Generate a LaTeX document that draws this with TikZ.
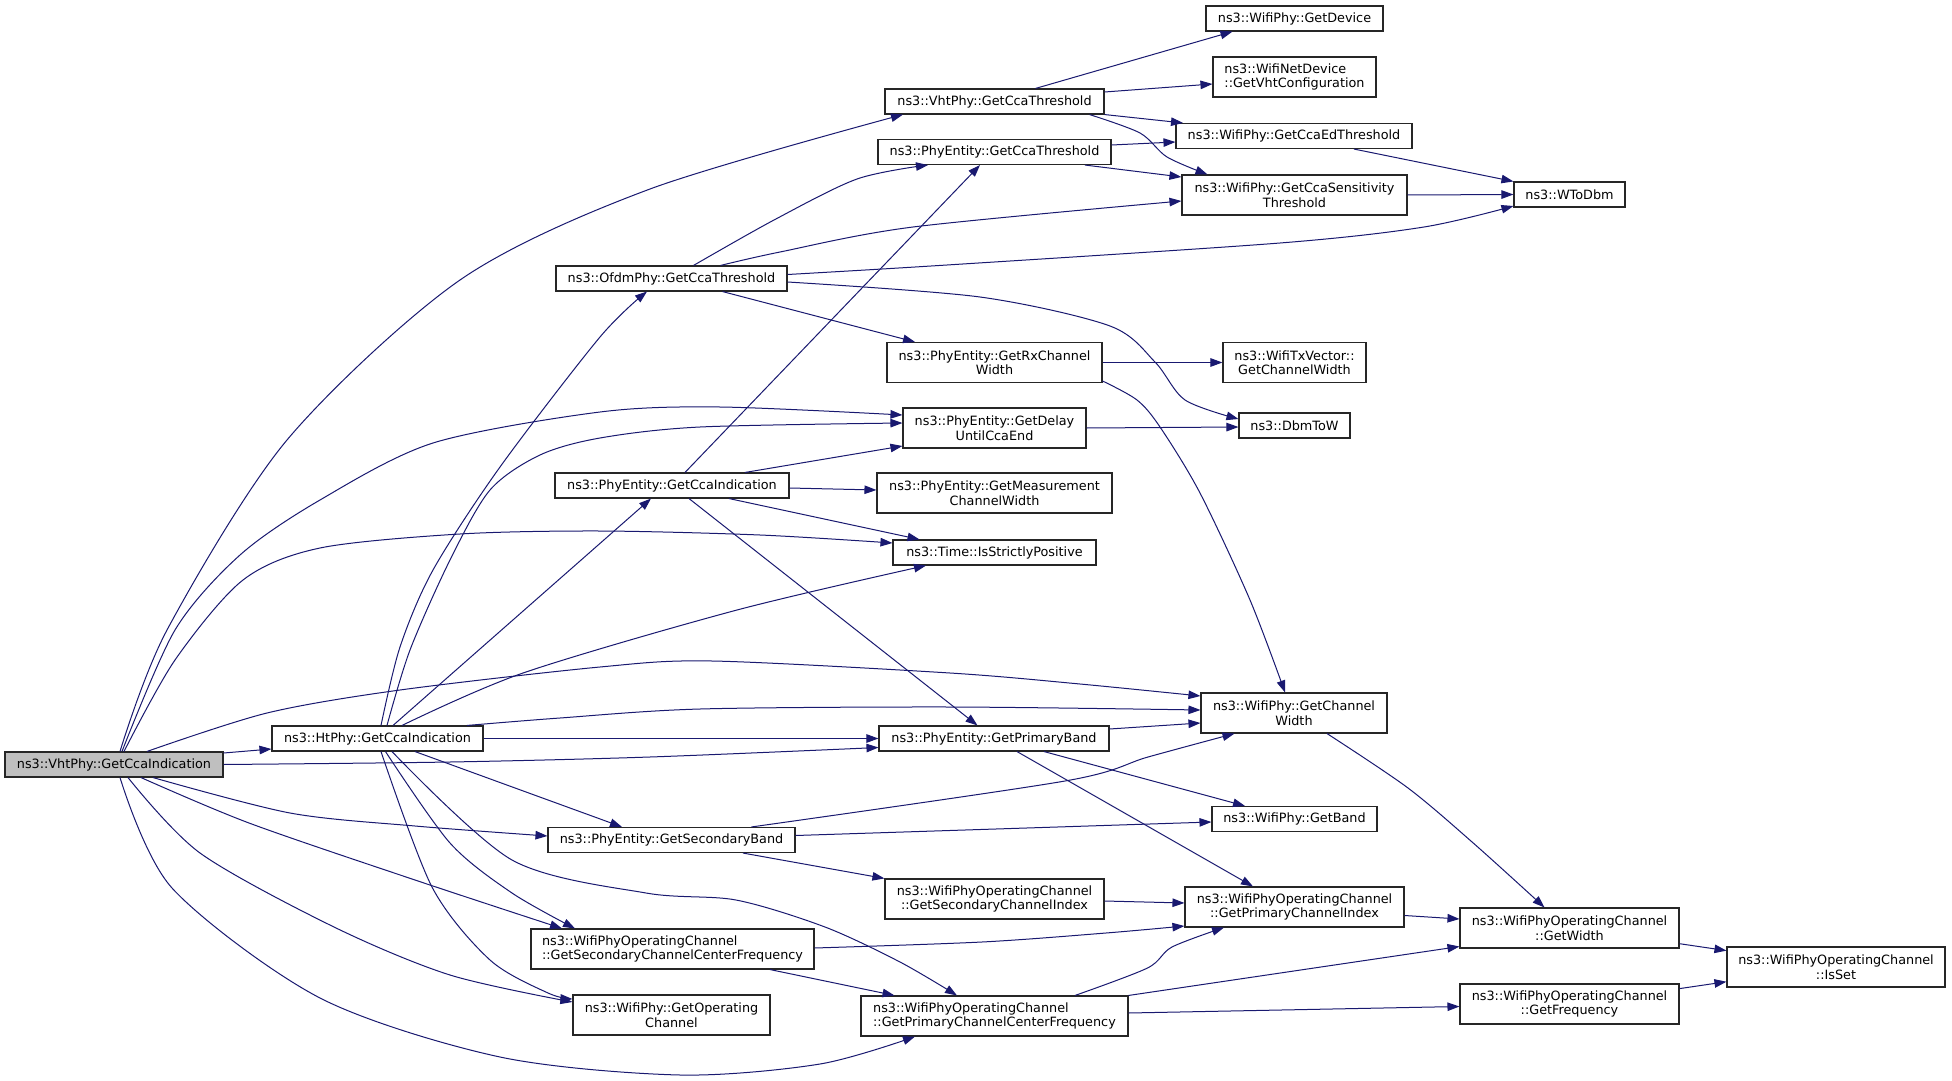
\documentclass[tikz,border=0pt]{standalone}
\usepackage{fontspec}
\setmainfont{DejaVu Sans}
\usetikzlibrary{arrows.meta}
\definecolor{edgeblue}{RGB}{25,25,112}
\definecolor{rootgray}{RGB}{191,191,191}
\begin{document}
\begin{tikzpicture}[x=1pt,y=-1pt,
    fn/.style={draw=black!85,line width=1.1pt,fill=white,inner sep=0pt,minimum height=25,align=center,font=\fontsize{12.8}{14.5}\selectfont},
    fn2/.style={fn,minimum height=40},
    fnroot/.style={fn,fill=rootgray},
    call/.style={draw=edgeblue,line width=1pt,-{Triangle[length=12,width=8.5]}}]
    \fill[white](0,0)rectangle(1952,1081);
    \useasboundingbox(0,0)rectangle(1952,1081);
    \node[fnroot,minimum width=218](vhtgci)at(114,764.5){ns3::VhtPhy::GetCcaIndication};
    \node[fn,minimum width=211](htgci)at(377.5,738.5){ns3::HtPhy::GetCcaIndication};
    \node[fn,minimum width=231](ofdmgct)at(671.5,278.5){ns3::OfdmPhy::GetCcaThreshold};
    \node[fn,minimum width=234](pegci)at(672,485.5){ns3::PhyEntity::GetCcaIndication};
    \node[fn,minimum width=247](pegsb)at(671.5,840){ns3::PhyEntity::GetSecondaryBand};
    \node[fn2,minimum width=283,align=left](secccf)at(672.5,949){ns3::WifiPhyOperatingChannel\\::GetSecondaryChannelCenterFrequency};
    \node[fn2,minimum width=197](getopch)at(671.5,1015){ns3::WifiPhy::GetOperating\\Channel};
    \node[fn,minimum width=219](vhtgct)at(994.5,101.5){ns3::VhtPhy::GetCcaThreshold};
    \node[fn,minimum width=233](pegct)at(994.5,152){ns3::PhyEntity::GetCcaThreshold};
    \node[fn2,minimum width=215](rxcw)at(994.5,362.5){ns3::PhyEntity::GetRxChannel\\Width};
    \node[fn2,minimum width=183](delay)at(994.5,428){ns3::PhyEntity::GetDelay\\UntilCcaEnd};
    \node[fn2,minimum width=235](measw)at(994.5,493){ns3::PhyEntity::GetMeasurement\\ChannelWidth};
    \node[fn,minimum width=203](isstrict)at(994.5,552.5){ns3::Time::IsStrictlyPositive};
    \node[fn,minimum width=230](pegpb)at(994,738.5){ns3::PhyEntity::GetPrimaryBand};
    \node[fn2,minimum width=219](secchidx)at(994.5,899){ns3::WifiPhyOperatingChannel\\::GetSecondaryChannelIndex};
    \node[fn2,minimum width=267,align=left](primccf)at(994.5,1016){ns3::WifiPhyOperatingChannel\\::GetPrimaryChannelCenterFrequency};
    \node[fn,minimum width=177](getdev)at(1294.5,18.5){ns3::WifiPhy::GetDevice};
    \node[fn2,minimum width=163,align=left](getvht)at(1294.5,77){ns3::WifiNetDevice\\::GetVhtConfiguration};
    \node[fn,minimum width=236](edthr)at(1294,136){ns3::WifiPhy::GetCcaEdThreshold};
    \node[fn2,minimum width=225](sensthr)at(1294.5,195){ns3::WifiPhy::GetCcaSensitivity\\Threshold};
    \node[fn2,minimum width=143](txcw)at(1294.5,362.5){ns3::WifiTxVector::\\GetChannelWidth};
    \node[fn,minimum width=111](dbmtow)at(1294.5,425.5){ns3::DbmToW};
    \node[fn2,minimum width=186](chwidth)at(1294,713){ns3::WifiPhy::GetChannel\\Width};
    \node[fn,minimum width=165](getband)at(1294.5,819){ns3::WifiPhy::GetBand};
    \node[fn2,minimum width=219](primchidx)at(1294.5,907){ns3::WifiPhyOperatingChannel\\::GetPrimaryChannelIndex};
    \node[fn,minimum width=111](wtodbm)at(1569.5,194.5){ns3::WToDbm};
    \node[fn2,minimum width=219](getwidth)at(1569.5,928){ns3::WifiPhyOperatingChannel\\::GetWidth};
    \node[fn2,minimum width=219](getfreq)at(1569.5,1004){ns3::WifiPhyOperatingChannel\\::GetFrequency};
    \node[fn2,minimum width=218](isset)at(1836,967){ns3::WifiPhyOperatingChannel\\::IsSet};
    % calls of ns3::VhtPhy::GetCcaIndication
    \draw[call]plot[smooth]coordinates{([xshift=6]vhtgci.north)(167,630)(287,440)(460,280)(650,189)([xshift=-91.5]vhtgct.south)};
    \draw[call]plot[smooth]coordinates{([xshift=8]vhtgci.north)(175,630)(240,555)(320,500)(433,443)(600,412)(720,407)([yshift=13]delay.west)};
    \draw[call]plot[smooth]coordinates{([xshift=10]vhtgci.north)(175,660)(243,580)(320,548)(460,534)(600,531)(760,535)([yshift=9.5]isstrict.west)};
    \draw[call]plot[smooth]coordinates{([xshift=33]vhtgci.north)(267,713)(400,690)(600,667)(712,661)(950,673)(1080,684)([yshift=17]chwidth.west)};
    \draw[call]([yshift=11.5]vhtgci.east)--([yshift=-10.5]htgci.west);
    \draw[call]plot[smooth]coordinates{(vhtgci.east)(450,762)(650,757)([yshift=-9]pegpb.west)};
    \draw[call]plot[smooth]coordinates{([xshift=39]vhtgci.south)(290,813)(415,826)([yshift=4]pegsb.west)};
    \draw[call]plot[smooth]coordinates{([xshift=27]vhtgci.south)(249,823)(415,880)([xshift=-110.5]secccf.north)};
    \draw[call]plot[smooth]coordinates{([xshift=14]vhtgci.south)(200,853)(334,927)(450,975)([yshift=13]getopch.west)};
    \draw[call]plot[smooth]coordinates{([xshift=6]vhtgci.south)(172,888)(320,998)(500,1057)(680,1075)(820,1064)([xshift=-79.5]primccf.south)};
    % calls of ns3::HtPhy::GetCcaIndication
    \draw[call]plot[smooth]coordinates{([xshift=3.5]htgci.north)(400,647)(433,570)(500,467)(600,337)([xshift=-24.5]ofdmgct.south)};
    \draw[call]plot[smooth]coordinates{([xshift=9.5]htgci.north)(410,650)(450,560)(490,490)(540,455)(600,438)(700,427)([yshift=5]delay.west)};
    \draw[call]([xshift=15.5]htgci.north)--([xshift=-21]pegci.south);
    \draw[call]plot[smooth]coordinates{([xshift=24.5]htgci.north)(523,673)(737,610)([xshift=-68.5]isstrict.south)};
    \draw[call]plot[smooth]coordinates{([xshift=89.5]htgci.north)(560,718)(700,709)(950,707)([yshift=3]chwidth.west)};
    \draw[call](htgci.east)--(pegpb.west);
    \draw[call]([xshift=37.5]htgci.south)--([xshift=-49.5]pegsb.north);
    \draw[call]plot[smooth]coordinates{([xshift=8]htgci.south)(450,843)(512,893)([xshift=-97.5]secccf.north)};
    \draw[call]plot[smooth]coordinates{([xshift=3.5]htgci.south)(432,887)(490,960)(548,993)([yshift=16]getopch.west)};
    \draw[call]plot[smooth]coordinates{([xshift=14.5]htgci.south)(512,860)(646,893)(736,900)(825,927)(900,962)([xshift=-37.5]primccf.north)};
    % calls of ns3::PhyEntity::GetCcaIndication
    \draw[call]([xshift=13]pegci.north)--([xshift=-14.5]pegct.south);
    \draw[call]([xshift=73]pegci.north)--([yshift=-18]delay.west);
    \draw[call]([yshift=-2.5]pegci.east)--([yshift=3]measw.west);
    \draw[call]([xshift=57]pegci.south)--([xshift=-75]isstrict.north);
    \draw[call]([xshift=17]pegci.south)--([xshift=-16.5]pegpb.north);
    % calls of ns3::OfdmPhy::GetCcaThreshold
    \draw[call]plot[smooth]coordinates{([xshift=22]ofdmgct.north)(774,220)(857,179)([xshift=-66.5]pegct.south)};
    \draw[call]plot[smooth]coordinates{([xshift=49]ofdmgct.north)(780,252)(913,227)([yshift=-6]sensthr.west)};
    \draw[call]plot[smooth]coordinates{([yshift=4]ofdmgct.east)(947,265)(1280,243)(1424,227)([yshift=-11.5]wtodbm.west)};
    \draw[call]([xshift=51]ofdmgct.south)--([xshift=-79.5]rxcw.north);
    \draw[call]plot[smooth]coordinates{([yshift=-3.5]ofdmgct.east)(980,297)(1110,326)(1155,362)(1185,400)([yshift=6.5]dbmtow.west)};
    % the threshold calls
    \draw[call]([xshift=41]vhtgct.north)--([xshift=-62]getdev.south);
    \draw[call]([yshift=9.5]vhtgct.east)--([yshift=-7]getvht.west);
    \draw[call](vhtgct.south east)--([xshift=-111]edthr.north);
    \draw[call]plot[smooth]coordinates{([xshift=95]vhtgct.south)(1140,133)(1167,157)([xshift=-87]sensthr.north)};
    \draw[call]([yshift=7]pegct.east)--([yshift=-6]edthr.west);
    \draw[call]([xshift=90.5]pegct.south)--([yshift=18]sensthr.west);
    \draw[call]([xshift=60]edthr.south)--(wtodbm.north west);
    \draw[call](sensthr.east)--(wtodbm.west);
    % channel width and bands
    \draw[call](rxcw.east)--(txcw.west);
    \draw[call]plot[smooth]coordinates{([yshift=-18.5]rxcw.east)(1137,400)(1160,427)(1200,493)(1250,600)([xshift=-9]chwidth.north)};
    \draw[call](delay.east)--([yshift=-1.5]dbmtow.west);
    \draw[call]([yshift=9.5]pegpb.east)--([yshift=-10]chwidth.west);
    \draw[call]([xshift=50]pegpb.south)--([xshift=-49.5]getband.north);
    \draw[call]([xshift=23]pegpb.south)--([xshift=-41.5]primchidx.north);
    \draw[call]plot[smooth]coordinates{([xshift=80]pegsb.north)(1065,781)(1148,757)([xshift=-59.5]chwidth.south)};
    \draw[call]([yshift=4.5]pegsb.east)--([yshift=-3]getband.west);
    \draw[call]([xshift=71.5]pegsb.south)--(secchidx.north west);
    \draw[call]([yshift=-2]secchidx.east)--([yshift=4]primchidx.west);
    \draw[call]plot[smooth]coordinates{([yshift=1]secccf.east)(982,942)(1106,933)([yshift=-19]primchidx.west)};
    \draw[call]([xshift=97.5]secccf.south)--([xshift=-100]primccf.north);
    \draw[call]plot[smooth]coordinates{([xshift=80.5]primccf.north)(1147.5,968)(1172,947)([xshift=-70.5]primchidx.south)};
    \draw[call](primccf.north east)--([yshift=-18.5]getwidth.west);
    \draw[call]([yshift=3]primccf.east)--([yshift=-2.5]getfreq.west);
    \draw[call]([yshift=-8.5]primchidx.east)--([yshift=9]getwidth.west);
    \draw[call]plot[smooth]coordinates{([xshift=33]chwidth.south)(1408,788)(1474,843.7)([xshift=-25]getwidth.north)};
    \draw[call]([yshift=-15.7]getwidth.east)--([yshift=16.4]isset.west);
    \draw[call]([yshift=15.4]getfreq.east)--([yshift=-14.7]isset.west);
\end{tikzpicture}
\end{document}
